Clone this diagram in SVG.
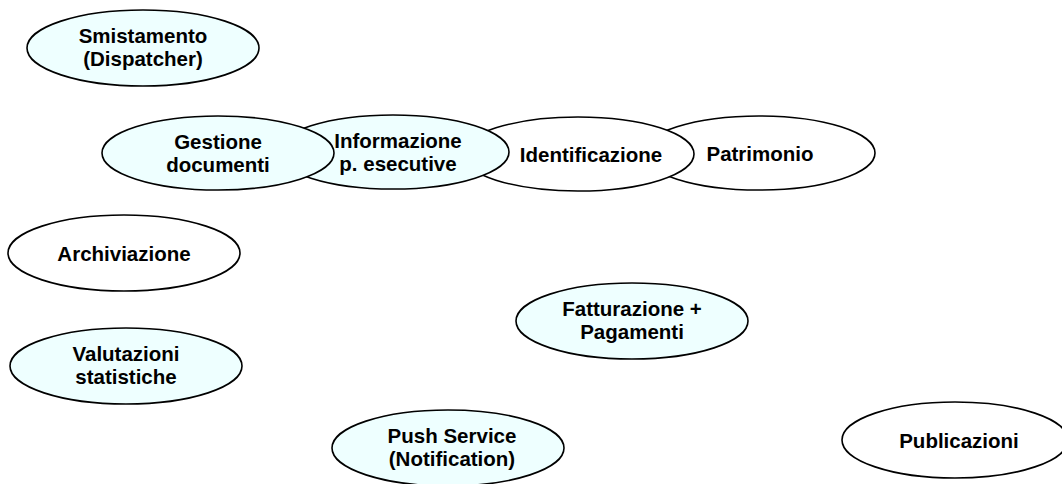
<svg xmlns="http://www.w3.org/2000/svg" width="1062" height="484" viewBox="0 0 1062 484">
<style>
.n{stroke:#000;stroke-width:1.6}
.c{fill:#EEFFFF}
.w{fill:#FFFFFF}
text{font-family:"Liberation Sans",Arial,sans-serif;font-weight:bold;font-size:20.5px;fill:#000;text-anchor:middle}
</style>
<rect width="1062" height="484" fill="#FFFFFF"/>
<g id="connectors"></g>
<g id="smistamento"><ellipse class="n c" cx="143" cy="48" rx="116" ry="38"/><text x="143" y="43">Smistamento</text><text x="143" y="66">(Dispatcher)</text></g>
<g id="patrimonio"><ellipse class="n w" cx="759" cy="153" rx="116" ry="37"/><text x="760" y="161">Patrimonio</text></g>
<g id="identificazione"><ellipse class="n w" cx="578" cy="154" rx="116" ry="37"/><text x="591" y="162">Identificazione</text></g>
<g id="informazione"><ellipse class="n c" cx="393" cy="152" rx="116" ry="37"/><text x="398" y="148">Informazione</text><text x="398" y="171">p. esecutive</text></g>
<g id="gestione"><ellipse class="n c" cx="218" cy="153" rx="116" ry="37"/><text x="218" y="149">Gestione</text><text x="218" y="172">documenti</text></g>
<g id="archiviazione"><ellipse class="n w" cx="124" cy="253" rx="116" ry="38"/><text x="124" y="261">Archiviazione</text></g>
<g id="valutazioni"><ellipse class="n c" cx="126" cy="366" rx="116" ry="38"/><text x="126" y="361">Valutazioni</text><text x="126" y="384">statistiche</text></g>
<g id="fatturazione"><ellipse class="n c" cx="632" cy="321" rx="116" ry="38"/><text x="632" y="316">Fatturazione +</text><text x="632" y="339">Pagamenti</text></g>
<g id="push"><ellipse class="n c" cx="448" cy="448" rx="116" ry="38"/><text x="452" y="443">Push Service</text><text x="452" y="466">(Notification)</text></g>
<g id="publicazioni"><ellipse class="n w" cx="955" cy="440" rx="113" ry="38"/><text x="959" y="448">Publicazioni</text></g>
</svg>
